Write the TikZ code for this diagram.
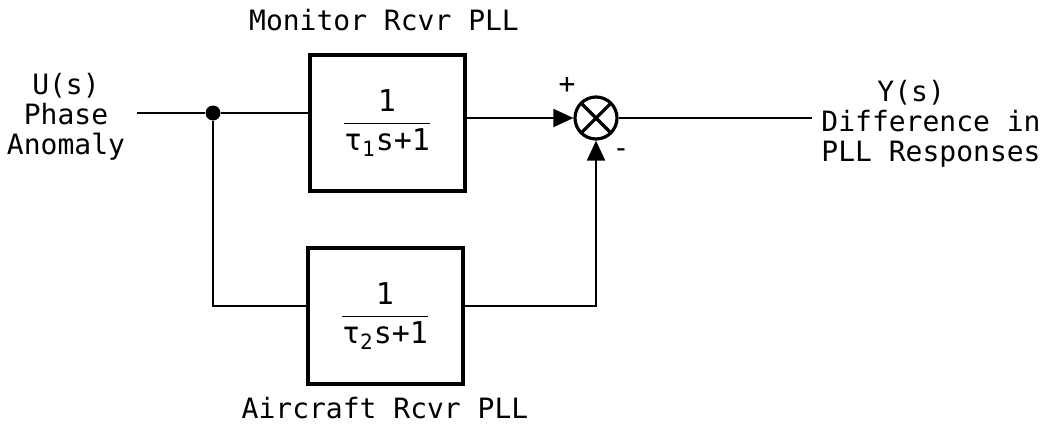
\documentclass[tikz,border=0pt]{standalone}
\usepackage{amsmath}
\usepackage{fontspec}
\setmainfont{DejaVu Sans Mono}
\usepackage{tikz}
\usetikzlibrary{arrows.meta}

\begin{document}
\begin{tikzpicture}[x=.5pt,y=-.5pt,>={Triangle[length=10pt,width=9pt]},
  txt/.style={font=\fontsize{14}{15}\selectfont,align=center,inner sep=0pt},
  blk/.style={draw,line width=2pt,minimum width=77.5pt,minimum height=68pt,inner sep=0pt,font=\fontsize{15}{18}\selectfont},
  sumnode/.style={circle,draw,line width=1.6pt,minimum size=21pt,inner sep=0pt,
    path picture={\draw[line width=1.6pt] (path picture bounding box.north west)--(path picture bounding box.south east)
      (path picture bounding box.north east)--(path picture bounding box.south west);}},
  dotnode/.style={circle,fill,inner sep=0pt,minimum size=7.5pt},
  wire/.style={line width=1pt}]
\useasboundingbox (0,0) rectangle (1047,423);
% blocks
\node[blk] (mon) at (387,123){$\dfrac{\text{1}}{\text{τ}_{\text{1}}\text{s+1}}$};
\node[blk] (air) at (385,316){$\dfrac{\text{1}}{\text{τ}_{\text{2}}\text{s+1}}$};
\node[sumnode] (sum) at (596,118){};
\node[dotnode] (dot) at (213,113){};
\coordinate (in) at (137,113);
\coordinate (bend) at (213,306);
\coordinate (out) at (812,118);
% labels
\node[txt] (montitle) at (384,20){Monitor Rcvr PLL};
\node[txt] (airtitle) at (385,408){Aircraft Rcvr PLL};
\node[txt] (ulabel) at (66,117){U(s)\\Phase\\Anomaly};
\node[txt,align=left] (ylabel) at (931,124){\hspace*{28pt}Y(s)\\Difference in\\PLL Responses};
\node[txt] (plus) at (567,85){+};
\node[txt] (minus) at (621,153){-};
% wires
\draw[wire] (in)--(dot)--(dot -| mon.west);
\draw[wire] (dot)--(bend)--(bend -| air.west);
\draw[wire,->] (mon.east |- sum)--(sum.west);
\draw[wire,->] (air.east |- bend) -| (sum.south);
\draw[wire] (sum.east)--(out);
\end{tikzpicture}
\end{document}
